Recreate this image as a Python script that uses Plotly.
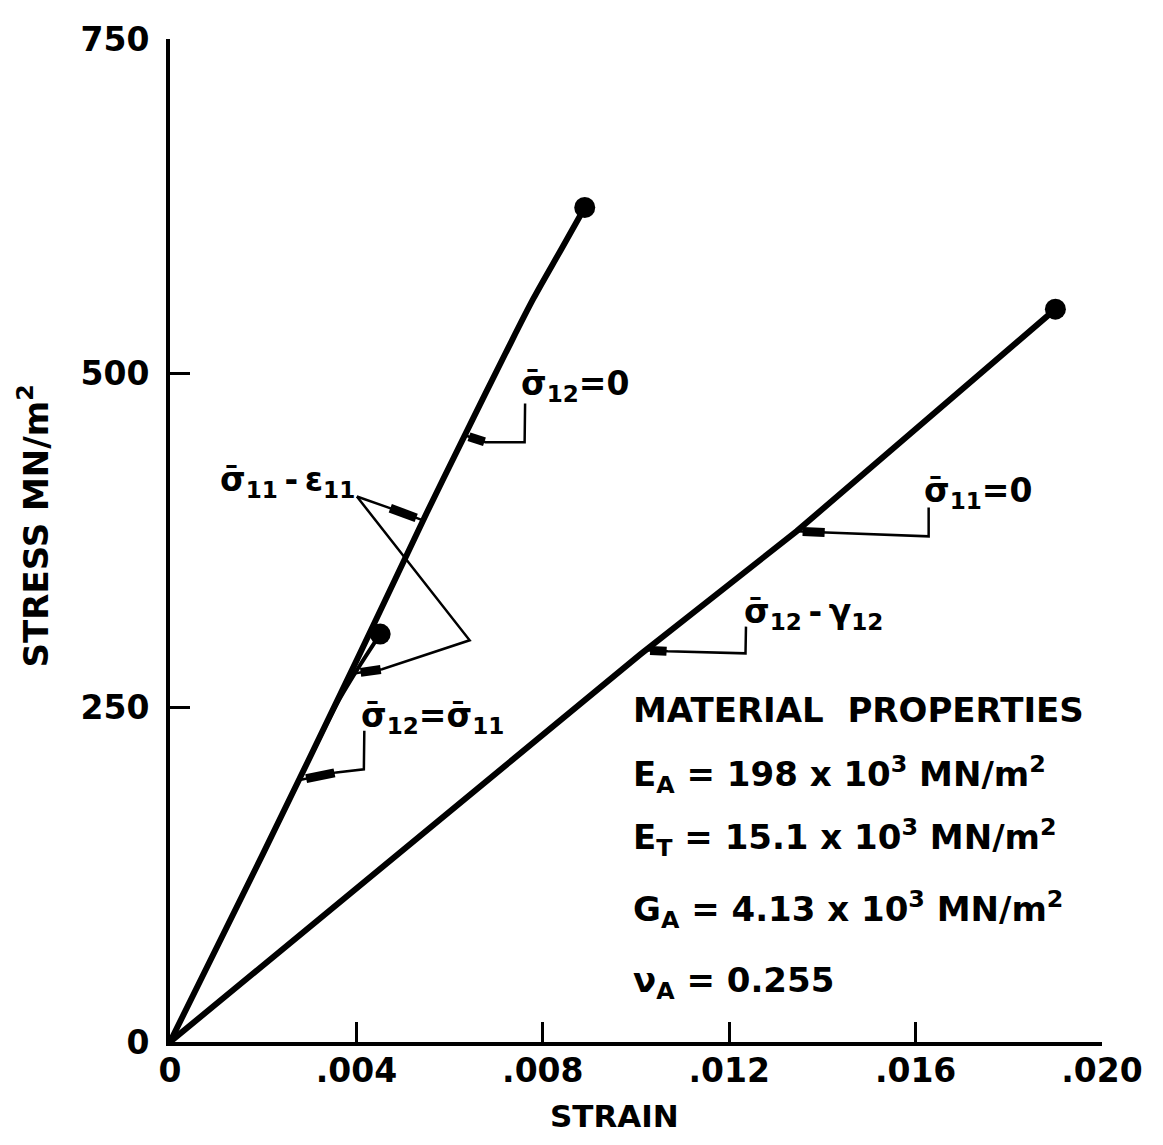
import numpy as np
import plotly.graph_objects as go

# ---------------- data ----------------
# sigma11 - eps11 response (sigma12 = 0)
strain_axial = [0, 0.0020, 0.0040, 0.0055, 0.0065, 0.0072, 0.0078, 0.0084, 0.0089]
stress_axial = [0, 141, 285, 395, 466, 515, 556, 593, 624]

# combined loading sigma12 = sigma11
strain_combined = [0, 0.0020, 0.0036, 0.0041, 0.00451]
stress_combined = [0, 141, 254, 283, 305]

# sigma12 - gamma12 response (sigma11 = 0)
strain_shear = [0, 0.0101, 0.01345, 0.0190]
stress_shear = [0, 290, 382, 548]

x_tickvals = [0, 0.004, 0.008, 0.012, 0.016, 0.020]
x_ticktext = ["0", ".004", ".008", ".012", ".016", ".020"]
y_tickvals = [0, 250, 500, 750]
y_ticktext = ["0", "250", "500", "750"]

prop_lines = [
    "MATERIAL  PROPERTIES",
    "E<sub>A</sub> = 198 x 10<sup>3</sup> MN/m<sup>2</sup>",
    "E<sub>T</sub> = 15.1 x 10<sup>3</sup> MN/m<sup>2</sup>",
    "G<sub>A</sub> = 4.13 x 10<sup>3</sup> MN/m<sup>2</sup>",
    "ν<sub>A</sub> = 0.255",
]

SB = "σ\u0304"  # sigma with bar
TS = "\u2009"   # thin space
FONT = "DejaVu Sans"

fig = go.Figure()

fig.add_trace(go.Scatter(x=strain_axial, y=stress_axial, mode="lines",
                         line=dict(color="black", width=6, shape="spline", smoothing=0.9)))
fig.add_trace(go.Scatter(x=strain_combined, y=stress_combined, mode="lines",
                         line=dict(color="black", width=4, shape="spline", smoothing=0.6)))
fig.add_trace(go.Scatter(x=strain_shear, y=stress_shear, mode="lines",
                         line=dict(color="black", width=6)))
fig.add_trace(go.Scatter(
    x=[strain_axial[-1], strain_combined[-1], strain_shear[-1]],
    y=[stress_axial[-1], stress_combined[-1], stress_shear[-1]],
    mode="markers", marker=dict(size=21, color="black")))


def tip_on(strain, stress, s):
    return float(np.interp(s, stress, strain)), s


def leader(pts, blob_start, tip):
    allp = pts + [blob_start, tip]
    path = "M " + " L ".join(f"{x},{y}" for x, y in allp)
    fig.add_shape(type="path", path=path, xref="x", yref="y", layer="above",
                  line=dict(color="black", width=2.5))
    bx, by = blob_start
    tx, ty = tip
    fig.add_shape(type="line", xref="x", yref="y", layer="above",
                  x0=bx + 0.05 * (tx - bx), y0=by + 0.05 * (ty - by),
                  x1=bx + 0.8 * (tx - bx), y1=by + 0.8 * (ty - by),
                  line=dict(color="black", width=9))


# sigma12 = 0
leader([(0.00762, 477.4), (0.00761, 448.5)], (0.00677, 448.5),
       tip_on(strain_axial, stress_axial, 453.7))
# sigma11 - eps11 (two arrows)
apex = (0.00401, 407.9)
leader([apex], (0.00469, 399.6), tip_on(strain_axial, stress_axial, 390))
leader([apex, (0.00643, 300.4)], (0.00455, 278.7),
       tip_on(strain_combined, stress_combined, 275.8))
# sigma12 = sigma11
leader([(0.00417, 232.8), (0.00416, 203.9)], (0.00357, 201.6),
       tip_on(strain_axial, stress_axial, 195.7))
# sigma11 = 0
leader([(0.01628, 399.6), (0.01628, 378.1)], (0.01408, 381.0),
       tip_on(strain_shear, stress_shear, 382))
# sigma12 - gamma12
leader([(0.01236, 310.6), (0.01235, 290.6)], (0.01068, 292.1),
       tip_on(strain_shear, stress_shear, 293))

labels = [
    (0.00748, 490.7, f"{SB}<sub>12</sub>=0"),
    (0.00103, 418.8, f"{SB}<sub>11</sub>{TS}-{TS}ε<sub>11</sub>"),
    (0.00405, 242.4, f"{SB}<sub>12</sub>={SB}<sub>11</sub>"),
    (0.01614, 410.7, f"{SB}<sub>11</sub>=0"),
    (0.01228, 320.2, f"{SB}<sub>12</sub>{TS}-{TS}γ<sub>12</sub>"),
]
for x, y, t in labels:
    fig.add_annotation(x=x, y=y, xref="x", yref="y", text=t, showarrow=False,
                       xanchor="left", yanchor="middle",
                       font=dict(family=FONT, size=33, color="black", weight="bold"))

prop_y = [248.3, 200, 152.7, 99.3, 44.5]
for t, y in zip(prop_lines, prop_y):
    fig.add_annotation(x=0.0099, y=y, xref="x", yref="y", text=t, showarrow=False,
                       xanchor="left", yanchor="middle",
                       font=dict(family=FONT, size=34, color="black", weight="bold"))

# axis titles
fig.add_annotation(x=0.4766, y=-0.074, xref="paper", yref="paper", text="STRAIN",
                   showarrow=False, xanchor="center", yanchor="middle",
                   font=dict(family=FONT, size=31, color="black", weight="bold"))
fig.add_annotation(x=-0.146, y=0.515, xref="paper", yref="paper",
                   text="STRESS MN/m<sup>2</sup>", textangle=-90,
                   showarrow=False, xanchor="center", yanchor="middle",
                   font=dict(family=FONT, size=34, color="black", weight="bold"))

axis_common = dict(showline=True, linewidth=4, linecolor="black", mirror=False,
                   showgrid=False, zeroline=False, ticks="inside", ticklen=20,
                   tickwidth=3, tickcolor="black",
                   tickfont=dict(family=FONT, size=33, color="black", weight="bold"))

fig.update_layout(
    width=1147, height=1129,
    margin=dict(l=162, r=45, t=22, b=95),
    paper_bgcolor="white", plot_bgcolor="white",
    showlegend=False,
    xaxis=dict(range=[0, 0.020], tickvals=x_tickvals, ticktext=x_ticktext,
               ticklabelstandoff=-4, **axis_common),
    yaxis=dict(range=[0, 750], tickvals=y_tickvals, ticktext=y_ticktext,
               ticklabelstandoff=10, **axis_common),
)

fig.write_html("out.html")
